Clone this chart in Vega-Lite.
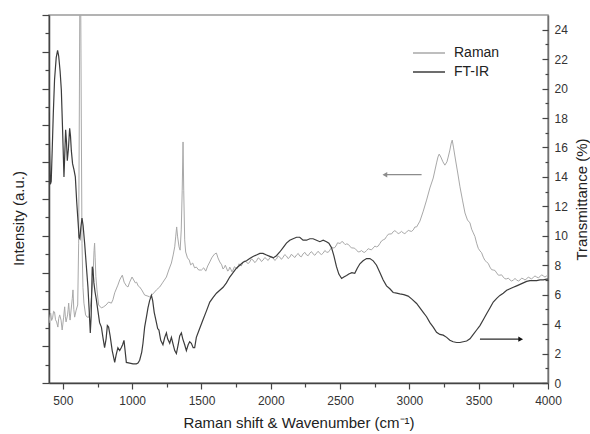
{
  "$schema": "https://vega.github.io/schema/vega-lite/v6.json",
  "width": 499,
  "height": 368,
  "autosize": {"type": "none"},
  "padding": {"left": 49, "top": 15, "right": 42, "bottom": 51},
  "background": "white",
  "config": {
    "font": "Liberation Sans",
    "view": {"stroke": "#9a9a9a", "strokeWidth": 1.5},
    "axis": {
      "domainColor": "#444444", "domainWidth": 1.5, "tickColor": "#444444", "tickWidth": 1.2,
      "labelColor": "#333333", "labelFont": "Liberation Sans", "labelFontSize": 12,
      "titleFont": "Liberation Sans", "titleFontSize": 15, "titleFontWeight": "normal", "titleColor": "#222222",
      "grid": false, "labelOverlap": false, "tickCount": 100
    }
  },
  "datasets": {
    "raman": [
      {"wavenumber":400,"intensity":1.63},{"wavenumber":406,"intensity":1.80},{"wavenumber":412,"intensity":1.90},{"wavenumber":419,"intensity":1.70},{"wavenumber":426,"intensity":1.77},{"wavenumber":433,"intensity":1.95},{"wavenumber":440,"intensity":1.93},{"wavenumber":447,"intensity":1.72},{"wavenumber":455,"intensity":1.66},{"wavenumber":464,"intensity":1.52},{"wavenumber":470,"intensity":1.75},{"wavenumber":477,"intensity":1.85},{"wavenumber":487,"intensity":1.71},{"wavenumber":495,"intensity":1.44},{"wavenumber":500,"intensity":1.60},{"wavenumber":505,"intensity":1.77},{"wavenumber":513,"intensity":2.07},{"wavenumber":518,"intensity":1.80},{"wavenumber":523,"intensity":1.66},{"wavenumber":534,"intensity":1.85},{"wavenumber":538,"intensity":2.00},{"wavenumber":542,"intensity":2.17},{"wavenumber":547,"intensity":1.90},{"wavenumber":552,"intensity":1.71},{"wavenumber":563,"intensity":2.12},{"wavenumber":568,"intensity":2.30},{"wavenumber":573,"intensity":2.53},{"wavenumber":579,"intensity":2.00},{"wavenumber":585,"intensity":1.79},{"wavenumber":596,"intensity":1.98},{"wavenumber":607,"intensity":2.12},{"wavenumber":614,"intensity":3.80},{"wavenumber":619,"intensity":7.5},{"wavenumber":623,"intensity":11},{"wavenumber":628,"intensity":11},{"wavenumber":633,"intensity":7.2},{"wavenumber":638,"intensity":3.8},{"wavenumber":645,"intensity":2.6},{"wavenumber":652,"intensity":2.17},{"wavenumber":664,"intensity":1.85},{"wavenumber":675,"intensity":1.79},{"wavenumber":688,"intensity":1.79},{"wavenumber":700,"intensity":2.12},{"wavenumber":711,"intensity":2.53},{"wavenumber":718,"intensity":2.93},{"wavenumber":725,"intensity":3.6},{"wavenumber":729,"intensity":3.80},{"wavenumber":733,"intensity":3.4},{"wavenumber":738,"intensity":2.9},{"wavenumber":746,"intensity":2.53},{"wavenumber":758,"intensity":2.12},{"wavenumber":778,"intensity":2.04},{"wavenumber":794,"intensity":2.07},{"wavenumber":812,"intensity":2.12},{"wavenumber":830,"intensity":2.20},{"wavenumber":850,"intensity":2.17},{"wavenumber":861,"intensity":2.26},{"wavenumber":874,"intensity":2.45},{"wavenumber":888,"intensity":2.58},{"wavenumber":897,"intensity":2.66},{"wavenumber":910,"intensity":2.80},{"wavenumber":921,"intensity":2.88},{"wavenumber":929,"intensity":2.93},{"wavenumber":942,"intensity":2.74},{"wavenumber":958,"intensity":2.64},{"wavenumber":970,"intensity":2.61},{"wavenumber":982,"intensity":2.74},{"wavenumber":999,"intensity":2.88},{"wavenumber":1011,"intensity":2.80},{"wavenumber":1023,"intensity":2.72},{"wavenumber":1032,"intensity":2.74},{"wavenumber":1043,"intensity":2.64},{"wavenumber":1054,"intensity":2.61},{"wavenumber":1069,"intensity":2.53},{"wavenumber":1090,"intensity":2.39},{"wavenumber":1114,"intensity":2.36},{"wavenumber":1126,"intensity":2.34},{"wavenumber":1150,"intensity":2.42},{"wavenumber":1175,"intensity":2.53},{"wavenumber":1199,"intensity":2.61},{"wavenumber":1222,"intensity":2.74},{"wavenumber":1247,"intensity":2.88},{"wavenumber":1264,"intensity":3.07},{"wavenumber":1283,"intensity":3.26},{"wavenumber":1296,"intensity":3.48},{"wavenumber":1307,"intensity":3.70},{"wavenumber":1314,"intensity":3.97},{"wavenumber":1321,"intensity":4.24},{"wavenumber":1328,"intensity":3.97},{"wavenumber":1338,"intensity":3.70},{"wavenumber":1346,"intensity":3.61},{"wavenumber":1354,"intensity":4.16},{"wavenumber":1361,"intensity":5.24},{"wavenumber":1367,"intensity":6.55},{"wavenumber":1372,"intensity":5.24},{"wavenumber":1379,"intensity":3.89},{"wavenumber":1386,"intensity":3.56},{"wavenumber":1399,"intensity":3.40},{"wavenumber":1412,"intensity":3.34},{"wavenumber":1422,"intensity":3.21},{"wavenumber":1437,"intensity":3.26},{"wavenumber":1450,"intensity":3.13},{"wavenumber":1463,"intensity":3.15},{"wavenumber":1480,"intensity":3.07},{"wavenumber":1500,"intensity":3.07},{"wavenumber":1516,"intensity":3.13},{"wavenumber":1531,"intensity":3.04},{"wavenumber":1545,"intensity":3.18},{"wavenumber":1560,"intensity":3.29},{"wavenumber":1574,"intensity":3.40},{"wavenumber":1583,"intensity":3.45},{"wavenumber":1596,"intensity":3.51},{"wavenumber":1608,"intensity":3.53},{"wavenumber":1619,"intensity":3.40},{"wavenumber":1632,"intensity":3.29},
      {"wavenumber":1646,"intensity":3.21},{"wavenumber":1655,"intensity":3.10},{"wavenumber":1664,"intensity":3.13},{"wavenumber":1672,"intensity":3.20},{"wavenumber":1680,"intensity":3.13},{"wavenumber":1689,"intensity":3.04},{"wavenumber":1697,"intensity":3.07},{"wavenumber":1704,"intensity":3.15},{"wavenumber":1711,"intensity":3.10},{"wavenumber":1720,"intensity":3.02},{"wavenumber":1728,"intensity":3.07},{"wavenumber":1738,"intensity":3.16},{"wavenumber":1747,"intensity":3.13},{"wavenumber":1756,"intensity":3.10},{"wavenumber":1765,"intensity":3.18},{"wavenumber":1771,"intensity":3.24},{"wavenumber":1776,"intensity":3.21},{"wavenumber":1787,"intensity":3.18},{"wavenumber":1798,"intensity":3.26},{"wavenumber":1811,"intensity":3.32},{"wavenumber":1825,"intensity":3.29},{"wavenumber":1836,"intensity":3.24},{"wavenumber":1848,"intensity":3.29},{"wavenumber":1860,"intensity":3.37},{"wavenumber":1872,"intensity":3.34},{"wavenumber":1885,"intensity":3.27},{"wavenumber":1897,"intensity":3.32},{"wavenumber":1909,"intensity":3.40},{"wavenumber":1921,"intensity":3.37},{"wavenumber":1933,"intensity":3.30},{"wavenumber":1944,"intensity":3.34},{"wavenumber":1957,"intensity":3.41},{"wavenumber":1969,"intensity":3.37},{"wavenumber":1981,"intensity":3.33},{"wavenumber":1993,"intensity":3.40},{"wavenumber":2005,"intensity":3.45},{"wavenumber":2017,"intensity":3.40},{"wavenumber":2029,"intensity":3.33},{"wavenumber":2041,"intensity":3.37},{"wavenumber":2053,"intensity":3.45},{"wavenumber":2065,"intensity":3.42},{"wavenumber":2077,"intensity":3.36},{"wavenumber":2089,"intensity":3.42},{"wavenumber":2101,"intensity":3.49},{"wavenumber":2113,"intensity":3.45},{"wavenumber":2125,"intensity":3.38},{"wavenumber":2137,"intensity":3.42},{"wavenumber":2149,"intensity":3.50},{"wavenumber":2161,"intensity":3.45},{"wavenumber":2174,"intensity":3.41},{"wavenumber":2186,"intensity":3.48},{"wavenumber":2198,"intensity":3.52},{"wavenumber":2209,"intensity":3.45},{"wavenumber":2221,"intensity":3.43},{"wavenumber":2233,"intensity":3.51},{"wavenumber":2246,"intensity":3.55},{"wavenumber":2258,"intensity":3.48},{"wavenumber":2270,"intensity":3.46},{"wavenumber":2282,"intensity":3.53},{"wavenumber":2294,"intensity":3.57},{"wavenumber":2305,"intensity":3.51},{"wavenumber":2318,"intensity":3.47},{"wavenumber":2330,"intensity":3.53},{"wavenumber":2342,"intensity":3.58},{"wavenumber":2354,"intensity":3.52},{"wavenumber":2366,"intensity":3.49},{"wavenumber":2378,"intensity":3.53},{"wavenumber":2390,"intensity":3.60},{"wavenumber":2402,"intensity":3.56},{"wavenumber":2414,"intensity":3.55},{"wavenumber":2426,"intensity":3.61},{"wavenumber":2438,"intensity":3.68},{"wavenumber":2450,"intensity":3.67},{"wavenumber":2462,"intensity":3.68},{"wavenumber":2474,"intensity":3.75},{"wavenumber":2482,"intensity":3.81},{"wavenumber":2491,"intensity":3.80},{"wavenumber":2501,"intensity":3.79},{"wavenumber":2511,"intensity":3.84},{"wavenumber":2519,"intensity":3.84},{"wavenumber":2527,"intensity":3.80},{"wavenumber":2537,"intensity":3.76},{"wavenumber":2547,"intensity":3.78},{"wavenumber":2558,"intensity":3.77},{"wavenumber":2570,"intensity":3.72},{"wavenumber":2582,"intensity":3.67},{"wavenumber":2594,"intensity":3.67},{"wavenumber":2606,"intensity":3.66},{"wavenumber":2619,"intensity":3.61},{"wavenumber":2631,"intensity":3.56},{"wavenumber":2643,"intensity":3.57},{"wavenumber":2655,"intensity":3.60},{"wavenumber":2666,"intensity":3.56},{"wavenumber":2678,"intensity":3.55},{"wavenumber":2691,"intensity":3.60},{"wavenumber":2703,"intensity":3.65},{"wavenumber":2715,"intensity":3.63},{"wavenumber":2727,"intensity":3.62},{"wavenumber":2739,"intensity":3.67},{"wavenumber":2751,"intensity":3.72},{"wavenumber":2763,"intensity":3.70},{"wavenumber":2775,"intensity":3.72},{"wavenumber":2787,"intensity":3.79},{"wavenumber":2799,"intensity":3.86},{"wavenumber":2811,"intensity":3.89},{"wavenumber":2823,"intensity":3.91},{"wavenumber":2835,"intensity":3.98},{"wavenumber":2847,"intensity":4.04},{"wavenumber":2859,"intensity":4.05},{"wavenumber":2871,"intensity":4.05},{"wavenumber":2883,"intensity":4.11},{"wavenumber":2895,"intensity":4.14},{"wavenumber":2908,"intensity":4.10},{"wavenumber":2919,"intensity":4.06},{"wavenumber":2931,"intensity":4.08},{"wavenumber":2943,"intensity":4.12},{"wavenumber":2955,"intensity":4.08},{"wavenumber":2967,"intensity":4.06},{"wavenumber":2980,"intensity":4.10},{"wavenumber":2992,"intensity":4.15},{"wavenumber":3004,"intensity":4.13},{"wavenumber":3016,"intensity":4.12},{"wavenumber":3028,"intensity":4.16},{"wavenumber":3040,"intensity":4.24},{"wavenumber":3052,"intensity":4.24},
      {"wavenumber":3076,"intensity":4.40},{"wavenumber":3100,"intensity":4.67},{"wavenumber":3124,"intensity":4.97},{"wavenumber":3148,"intensity":5.30},{"wavenumber":3172,"intensity":5.57},{"wavenumber":3196,"intensity":5.98},{"wavenumber":3206,"intensity":6.14},{"wavenumber":3215,"intensity":6.22},{"wavenumber":3227,"intensity":6.14},{"wavenumber":3242,"intensity":6.01},{"wavenumber":3256,"intensity":5.92},{"wavenumber":3271,"intensity":6.01},{"wavenumber":3280,"intensity":6.14},{"wavenumber":3292,"intensity":6.33},{"wavenumber":3302,"intensity":6.52},{"wavenumber":3309,"intensity":6.60},{"wavenumber":3318,"intensity":6.41},{"wavenumber":3333,"intensity":6.06},{"wavenumber":3350,"intensity":5.68},{"wavenumber":3365,"intensity":5.33},{"wavenumber":3383,"intensity":4.97},{"wavenumber":3401,"intensity":4.62},{"wavenumber":3419,"intensity":4.43},
      {"wavenumber":3437,"intensity":4.35},{"wavenumber":3449,"intensity":4.18},{"wavenumber":3461,"intensity":4.08},{"wavenumber":3473,"intensity":3.98},{"wavenumber":3485,"intensity":3.80},{"wavenumber":3497,"intensity":3.66},{"wavenumber":3509,"intensity":3.59},{"wavenumber":3521,"intensity":3.54},{"wavenumber":3533,"intensity":3.42},{"wavenumber":3545,"intensity":3.33},{"wavenumber":3557,"intensity":3.29},{"wavenumber":3569,"intensity":3.25},{"wavenumber":3581,"intensity":3.15},{"wavenumber":3593,"intensity":3.08},{"wavenumber":3605,"intensity":3.07},{"wavenumber":3617,"intensity":3.06},{"wavenumber":3630,"intensity":2.99},{"wavenumber":3642,"intensity":2.93},{"wavenumber":3653,"intensity":2.93},{"wavenumber":3665,"intensity":2.94},{"wavenumber":3677,"intensity":2.88},{"wavenumber":3690,"intensity":2.83},{"wavenumber":3702,"intensity":2.83},{"wavenumber":3714,"intensity":2.85},{"wavenumber":3726,"intensity":2.80},{"wavenumber":3738,"intensity":2.77},{"wavenumber":3750,"intensity":2.80},{"wavenumber":3762,"intensity":2.84},{"wavenumber":3774,"intensity":2.80},{"wavenumber":3786,"intensity":2.77},{"wavenumber":3798,"intensity":2.80},{"wavenumber":3810,"intensity":2.85},{"wavenumber":3822,"intensity":2.83},{"wavenumber":3834,"intensity":2.80},{"wavenumber":3846,"intensity":2.83},{"wavenumber":3858,"intensity":2.88},{"wavenumber":3870,"intensity":2.85},{"wavenumber":3882,"intensity":2.83},{"wavenumber":3894,"intensity":2.87},{"wavenumber":3906,"intensity":2.91},{"wavenumber":3918,"intensity":2.88},{"wavenumber":3930,"intensity":2.86},{"wavenumber":3942,"intensity":2.89},{"wavenumber":3954,"intensity":2.94},{"wavenumber":3966,"intensity":2.91},{"wavenumber":3978,"intensity":2.88},{"wavenumber":3990,"intensity":2.91},{"wavenumber":4000,"intensity":2.93}
    ],
    "ftir": [
      {"wavenumber":400,"transmittance":18.4},{"wavenumber":405,"transmittance":15.6},{"wavenumber":410,"transmittance":13.5},{"wavenumber":416,"transmittance":13.7},{"wavenumber":423,"transmittance":15.8},{"wavenumber":431,"transmittance":18.3},{"wavenumber":440,"transmittance":20.6},{"wavenumber":452,"transmittance":22.1},{"wavenumber":462,"transmittance":22.6},{"wavenumber":470,"transmittance":22.2},{"wavenumber":480,"transmittance":21.2},{"wavenumber":489,"transmittance":19.9},{"wavenumber":498,"transmittance":17.2},{"wavenumber":508,"transmittance":14.0},{"wavenumber":514,"transmittance":15.6},{"wavenumber":520,"transmittance":17.2},{"wavenumber":526,"transmittance":16.4},{"wavenumber":532,"transmittance":15.1},{"wavenumber":540,"transmittance":15.9},{"wavenumber":549,"transmittance":17.3},{"wavenumber":555,"transmittance":16.8},{"wavenumber":561,"transmittance":15.8},{"wavenumber":570,"transmittance":14.9},{"wavenumber":580,"transmittance":14.5},{"wavenumber":590,"transmittance":14.0},{"wavenumber":600,"transmittance":12.3},{"wavenumber":610,"transmittance":10.9},{"wavenumber":617,"transmittance":9.9},{"wavenumber":623,"transmittance":9.8},{"wavenumber":630,"transmittance":10.6},{"wavenumber":638,"transmittance":11.2},{"wavenumber":646,"transmittance":10.7},{"wavenumber":657,"transmittance":9.5},{"wavenumber":669,"transmittance":8.0},{"wavenumber":681,"transmittance":6.5},{"wavenumber":690,"transmittance":4.9},{"wavenumber":698,"transmittance":3.4},{"wavenumber":704,"transmittance":4.5},{"wavenumber":712,"transmittance":7.9},{"wavenumber":717,"transmittance":7.7},{"wavenumber":724,"transmittance":6.8},{"wavenumber":732,"transmittance":6.2},{"wavenumber":741,"transmittance":5.7},{"wavenumber":753,"transmittance":4.9},{"wavenumber":765,"transmittance":4.1},{"wavenumber":778,"transmittance":3.8},{"wavenumber":789,"transmittance":3.1},{"wavenumber":801,"transmittance":2.4},{"wavenumber":812,"transmittance":3.0},{"wavenumber":821,"transmittance":3.9},{"wavenumber":830,"transmittance":3.8},{"wavenumber":841,"transmittance":3.2},{"wavenumber":856,"transmittance":2.2},{"wavenumber":874,"transmittance":1.4},{"wavenumber":884,"transmittance":1.9},{"wavenumber":897,"transmittance":2.4},{"wavenumber":910,"transmittance":2.2},{"wavenumber":921,"transmittance":2.4},{"wavenumber":931,"transmittance":2.6},{"wavenumber":941,"transmittance":2.9},{"wavenumber":949,"transmittance":2.2},{"wavenumber":958,"transmittance":1.4},{"wavenumber":982,"transmittance":1.35},{"wavenumber":1006,"transmittance":1.3},{"wavenumber":1030,"transmittance":1.3},{"wavenumber":1042,"transmittance":1.35},{"wavenumber":1054,"transmittance":1.55},{"wavenumber":1069,"transmittance":2.1},{"wavenumber":1078,"transmittance":2.7},{"wavenumber":1090,"transmittance":3.8},{"wavenumber":1105,"transmittance":4.6},{"wavenumber":1114,"transmittance":5.1},{"wavenumber":1126,"transmittance":5.6},{"wavenumber":1139,"transmittance":5.95},{"wavenumber":1148,"transmittance":5.6},{"wavenumber":1159,"transmittance":4.8},{"wavenumber":1175,"transmittance":4.1},{"wavenumber":1184,"transmittance":3.7},{"wavenumber":1193,"transmittance":3.6},{"wavenumber":1206,"transmittance":2.9},{"wavenumber":1222,"transmittance":2.6},{"wavenumber":1235,"transmittance":3.1},{"wavenumber":1247,"transmittance":3.4},{"wavenumber":1256,"transmittance":3.0},{"wavenumber":1271,"transmittance":2.7},{"wavenumber":1283,"transmittance":3.1},{"wavenumber":1296,"transmittance":2.6},{"wavenumber":1307,"transmittance":2.2},{"wavenumber":1319,"transmittance":2.0},{"wavenumber":1332,"transmittance":2.6},{"wavenumber":1343,"transmittance":3.2},{"wavenumber":1355,"transmittance":3.4},{"wavenumber":1365,"transmittance":3.0},{"wavenumber":1379,"transmittance":2.6},{"wavenumber":1391,"transmittance":2.2},{"wavenumber":1404,"transmittance":2.6},{"wavenumber":1415,"transmittance":2.8},{"wavenumber":1427,"transmittance":2.7},{"wavenumber":1440,"transmittance":2.4},{"wavenumber":1451,"transmittance":2.4},{"wavenumber":1463,"transmittance":3.1},{"wavenumber":1487,"transmittance":3.7},{"wavenumber":1511,"transmittance":4.3},{"wavenumber":1536,"transmittance":4.9},{"wavenumber":1560,"transmittance":5.5},{"wavenumber":1583,"transmittance":5.8},{"wavenumber":1608,"transmittance":6.1},{"wavenumber":1632,"transmittance":6.3},{"wavenumber":1656,"transmittance":6.5},{"wavenumber":1680,"transmittance":6.8},{"wavenumber":1704,"transmittance":7.2},{"wavenumber":1728,"transmittance":7.5},{"wavenumber":1752,"transmittance":7.8},{"wavenumber":1776,"transmittance":8.0},{"wavenumber":1800,"transmittance":8.2},{"wavenumber":1825,"transmittance":8.3},{"wavenumber":1848,"transmittance":8.45},{"wavenumber":1872,"transmittance":8.6},{"wavenumber":1897,"transmittance":8.7},{"wavenumber":1921,"transmittance":8.8},{"wavenumber":1944,"transmittance":8.8},{"wavenumber":1969,"transmittance":8.7},{"wavenumber":1993,"transmittance":8.6},{"wavenumber":2017,"transmittance":8.5},{"wavenumber":2041,"transmittance":8.65},{"wavenumber":2065,"transmittance":8.9},{"wavenumber":2089,"transmittance":9.2},{"wavenumber":2113,"transmittance":9.5},{"wavenumber":2137,"transmittance":9.7},{"wavenumber":2161,"transmittance":9.8},{"wavenumber":2186,"transmittance":9.9},{"wavenumber":2209,"transmittance":9.9},{"wavenumber":2233,"transmittance":9.7},{"wavenumber":2258,"transmittance":9.7},{"wavenumber":2282,"transmittance":9.8},{"wavenumber":2305,"transmittance":9.8},{"wavenumber":2330,"transmittance":9.7},{"wavenumber":2354,"transmittance":9.6},{"wavenumber":2378,"transmittance":9.7},{"wavenumber":2402,"transmittance":9.6},{"wavenumber":2419,"transmittance":9.5},{"wavenumber":2438,"transmittance":9.2},{"wavenumber":2455,"transmittance":8.65},{"wavenumber":2474,"transmittance":7.9},{"wavenumber":2491,"transmittance":7.4},{"wavenumber":2511,"transmittance":7.1},{"wavenumber":2527,"transmittance":7.2},{"wavenumber":2547,"transmittance":7.3},{"wavenumber":2563,"transmittance":7.4},{"wavenumber":2585,"transmittance":7.5},{"wavenumber":2606,"transmittance":7.45},{"wavenumber":2624,"transmittance":7.8},{"wavenumber":2643,"transmittance":8.1},{"wavenumber":2666,"transmittance":8.3},{"wavenumber":2691,"transmittance":8.45},{"wavenumber":2715,"transmittance":8.45},{"wavenumber":2739,"transmittance":8.3},{"wavenumber":2763,"transmittance":8.0},{"wavenumber":2787,"transmittance":7.5},{"wavenumber":2811,"transmittance":7.0},{"wavenumber":2835,"transmittance":6.6},{"wavenumber":2859,"transmittance":6.4},{"wavenumber":2883,"transmittance":6.15},{"wavenumber":2908,"transmittance":6.1},{"wavenumber":2931,"transmittance":6.05},{"wavenumber":2960,"transmittance":6.0},{"wavenumber":2991,"transmittance":5.9},{"wavenumber":3018,"transmittance":5.7},{"wavenumber":3052,"transmittance":5.4},{"wavenumber":3076,"transmittance":5.1},{"wavenumber":3100,"transmittance":4.8},{"wavenumber":3124,"transmittance":4.5},{"wavenumber":3148,"transmittance":4.1},{"wavenumber":3172,"transmittance":3.8},{"wavenumber":3196,"transmittance":3.45},{"wavenumber":3220,"transmittance":3.3},{"wavenumber":3244,"transmittance":3.25},{"wavenumber":3269,"transmittance":3.1},{"wavenumber":3292,"transmittance":2.9},{"wavenumber":3316,"transmittance":2.8},{"wavenumber":3341,"transmittance":2.75},{"wavenumber":3365,"transmittance":2.75},{"wavenumber":3388,"transmittance":2.8},{"wavenumber":3413,"transmittance":2.85},{"wavenumber":3437,"transmittance":3.0},{"wavenumber":3461,"transmittance":3.3},{"wavenumber":3485,"transmittance":3.6},{"wavenumber":3509,"transmittance":3.9},{"wavenumber":3533,"transmittance":4.3},{"wavenumber":3557,"transmittance":4.7},{"wavenumber":3581,"transmittance":5.1},{"wavenumber":3605,"transmittance":5.5},{"wavenumber":3630,"transmittance":5.75},{"wavenumber":3653,"transmittance":5.95},{"wavenumber":3677,"transmittance":6.1},{"wavenumber":3702,"transmittance":6.3},{"wavenumber":3726,"transmittance":6.4},{"wavenumber":3750,"transmittance":6.5},{"wavenumber":3774,"transmittance":6.6},{"wavenumber":3798,"transmittance":6.7},{"wavenumber":3822,"transmittance":6.8},{"wavenumber":3846,"transmittance":6.9},{"wavenumber":3870,"transmittance":6.95},{"wavenumber":3894,"transmittance":6.95},{"wavenumber":3918,"transmittance":6.95},{"wavenumber":3942,"transmittance":7.0},{"wavenumber":3966,"transmittance":7.0},{"wavenumber":3990,"transmittance":7.05},{"wavenumber":4000,"transmittance":7.05}
    ],
    "raman_arrow": [{"wavenumber": 2823, "wavenumber_end": 3088, "intensity": 5.66}],
    "ftir_arrow": [{"wavenumber": 3509, "wavenumber_end": 3803, "transmittance": 2.98}]
  },
  "layer": [
    {
      "layer": [
        {
          "data": {"name": "raman"},
          "mark": {"type": "line", "strokeWidth": 1, "clip": true},
          "encoding": {
            "x": {
              "field": "wavenumber", "type": "quantitative",
              "scale": {"domain": [400, 4000], "nice": false, "zero": false},
              "axis": {
                "orient": "bottom",
                "title": "Raman shift & Wavenumber (cm⁻¹)",
                "values": [500, 1000, 1500, 2000, 2500, 3000, 3500, 4000],
                "tickCount": 100,
                "format": "d",
                "tickSize": 6,
                "labelPadding": 6,
                "titlePadding": 9,
                "labelFlush": false,
                "labelOverlap": false
              }
            },
            "y": {
              "field": "intensity", "type": "quantitative",
              "scale": {"domain": [0, 10], "nice": false, "zero": false},
              "axis": {
                "orient": "left",
                "title": "Intensity (a.u.)",
                "values": [0, 1, 2, 3, 4, 5, 6, 7, 8, 9, 10],
                "tickCount": 100,
                "labels": false,
                "tickSize": 7,
                "titlePadding": 15,
                "titleY": 203
              }
            },
            "color": {
              "datum": "Raman", "type": "nominal",
              "scale": {"domain": ["Raman", "FT-IR"], "range": ["#a8a8a8", "#3c3c3c"]},
              "legend": {
                "orient": "none", "legendX": 363, "legendY": 31, "title": null,
                "symbolType": "stroke", "symbolSize": 1024, "symbolStrokeWidth": 1.5,
                "labelFontSize": 14, "labelFont": "Liberation Sans", "labelColor": "#222222", "labelOffset": 8,
                "clipHeight": 14, "rowPadding": 5
              }
            }
          }
        },
        {
          "data": {"name": "raman_arrow"},
          "mark": {"type": "rule", "color": "#8c8c8c", "strokeWidth": 1.2},
          "encoding": {
            "x": {"field": "wavenumber", "type": "quantitative"},
            "x2": {"field": "wavenumber_end"},
            "y": {"field": "intensity", "type": "quantitative"}
          }
        },
        {
          "data": {"name": "raman_arrow"},
          "mark": {"type": "point", "shape": "triangle-left", "filled": true, "color": "#8c8c8c", "size": 30, "opacity": 1},
          "encoding": {
            "x": {"field": "wavenumber", "type": "quantitative"},
            "y": {"field": "intensity", "type": "quantitative"}
          }
        }
      ]
    },
    {
      "layer": [
        {
          "data": {"name": "ftir"},
          "mark": {"type": "line", "strokeWidth": 1.2, "clip": true},
          "encoding": {
            "x": {"field": "wavenumber", "type": "quantitative", "scale": {"domain": [400, 4000], "nice": false, "zero": false}, "axis": null},
            "y": {
              "field": "transmittance", "type": "quantitative",
              "scale": {"domain": [0, 25], "nice": false, "zero": false},
              "axis": {
                "orient": "right",
                "title": "Transmittance (%)",
                "titleAngle": 270,
                "titleBaseline": "top",
                "values": [0, 2, 4, 6, 8, 10, 12, 14, 16, 18, 20, 22, 24],
                "tickCount": 100,
                "format": "d",
                "ticks": false,
                "labelPadding": 6,
                "labelOverlap": false,
                "titlePadding": 7,
                "domainColor": "#707070"
              }
            },
            "color": {"datum": "FT-IR", "type": "nominal"}
          }
        },
        {
          "data": {"name": "ftir_arrow"},
          "mark": {"type": "rule", "color": "#2a2a2a", "strokeWidth": 1.2},
          "encoding": {
            "x": {"field": "wavenumber", "type": "quantitative"},
            "x2": {"field": "wavenumber_end"},
            "y": {"field": "transmittance", "type": "quantitative"}
          }
        },
        {
          "data": {"name": "ftir_arrow"},
          "mark": {"type": "point", "shape": "triangle-right", "filled": true, "color": "#111111", "size": 30, "opacity": 1},
          "encoding": {
            "x": {"field": "wavenumber_end", "type": "quantitative"},
            "y": {"field": "transmittance", "type": "quantitative"}
          }
        }
      ]
    },
    {
      "data": {"name": "raman"},
      "mark": {"type": "point", "opacity": 0},
      "encoding": {
        "x": {
          "field": "wavenumber", "type": "quantitative",
          "scale": {"domain": [400, 4000], "nice": false, "zero": false},
          "axis": {"orient": "bottom", "values": [750, 1250, 1750, 2250, 2750, 3250, 3750], "tickCount": 100, "tickSize": 4, "labels": false, "domain": false, "title": null}
        },
        "y": {
          "field": "intensity", "type": "quantitative",
          "scale": {"domain": [0, 10], "nice": false, "zero": false},
          "axis": {"orient": "left", "values": [0.5, 1.5, 2.5, 3.5, 4.5, 5.5, 6.5, 7.5, 8.5, 9.5], "tickCount": 100, "tickSize": 4, "labels": false, "domain": false, "title": null}
        }
      }
    },
    {
      "data": {"name": "ftir"},
      "mark": {"type": "point", "opacity": 0},
      "encoding": {
        "x": {"field": "wavenumber", "type": "quantitative", "scale": {"domain": [400, 4000], "nice": false, "zero": false}, "axis": null},
        "y": {
          "field": "transmittance", "type": "quantitative",
          "scale": {"domain": [0, 25], "nice": false, "zero": false},
          "axis": {"orient": "left", "offset": -499, "values": [0, 2, 4, 6, 8, 10, 12, 14, 16, 18, 20, 22, 24], "tickCount": 100, "tickSize": 6, "labels": false, "domain": false, "title": null}
        }
      }
    },
    {
      "data": {"name": "ftir"},
      "mark": {"type": "point", "opacity": 0},
      "encoding": {
        "x": {"field": "wavenumber", "type": "quantitative", "scale": {"domain": [400, 4000], "nice": false, "zero": false}, "axis": null},
        "y": {
          "field": "transmittance", "type": "quantitative",
          "scale": {"domain": [0, 25], "nice": false, "zero": false},
          "axis": {"orient": "left", "offset": -499, "values": [1, 3, 5, 7, 9, 11, 13, 15, 17, 19, 21, 23], "tickCount": 100, "tickSize": 3, "labels": false, "domain": false, "title": null}
        }
      }
    }
  ],
  "resolve": {"scale": {"x": "independent", "y": "independent"}}
}
